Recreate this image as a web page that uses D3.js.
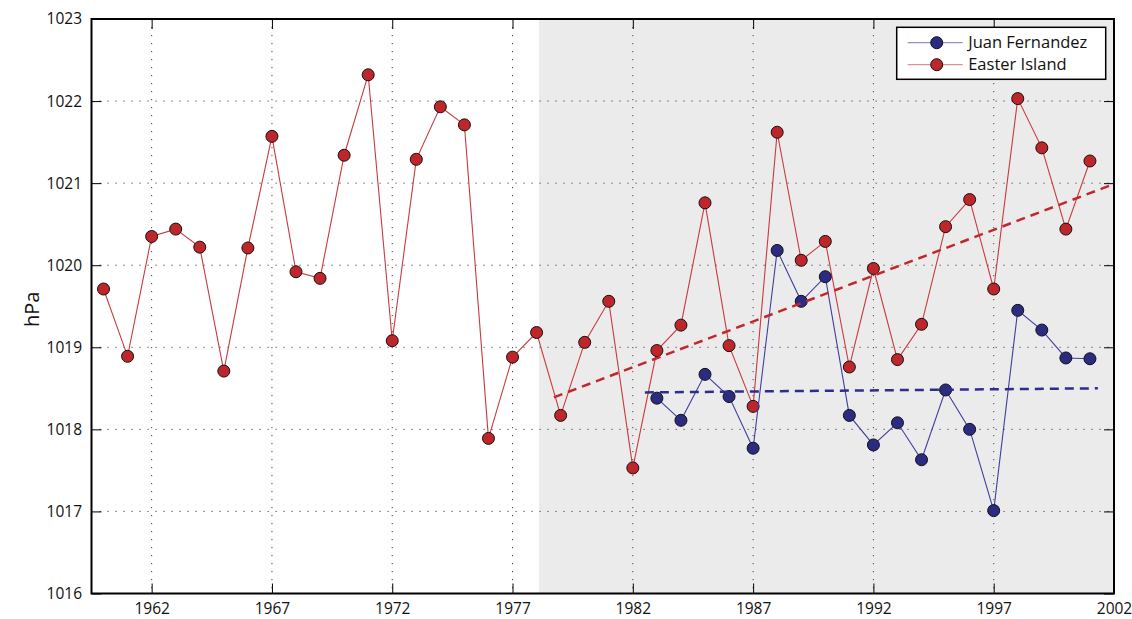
<!DOCTYPE html>
<html>
<head>
<meta charset="utf-8">
<script src="https://cdn.jsdelivr.net/npm/d3@7"></script>
<style>
  body { margin: 0; background: #fff; }
  svg { display: block; }
</style>
</head>
<body>
<div class="canva"></div>
<script>
// dati
var eiYears = [1960,1961,1962,1963,1964,1965,1966,1967,1968,1969,1970,1971,1972,1973,1974,1975,1976,1977,1978,1979,
               1980,1981,1982,1983,1984,1985,1986,1987,1988,1989,1990,1991,1992,1993,1994,1995,1996,1997,1998,1999,2000,2001];
var eiValues = [1019.71,1018.89,1020.35,1020.44,1020.22,1018.71,1020.21,1021.57,1019.92,1019.84,1021.34,1022.32,1019.08,1021.29,
                1021.93,1021.71,1017.89,1018.88,1019.18,1018.17,1019.06,1019.56,1017.53,1018.96,1019.27,1020.76,1019.02,1018.28,
                1021.62,1020.06,1020.29,1018.76,1019.96,1018.85,1019.28,1020.47,1020.80,1019.71,1022.03,1021.43,1020.44,1021.27];
var jfYears = [1983,1984,1985,1986,1987,1988,1989,1990,1991,1992,1993,1994,1995,1996,1997,1998,1999,2000,2001];
var jfValues = [1018.38,1018.11,1018.67,1018.40,1017.77,1020.18,1019.56,1019.86,1018.17,1017.81,1018.08,1017.63,
                1018.48,1018.00,1017.01,1019.45,1019.21,1018.87,1018.86];

// linee di tendenza (inizio, fine)
var eiTrendYears = [1978.72, 2002];
var eiTrendValues = [1018.39, 1020.99];
var jfTrendYears = [1982.5, 2001.33];
var jfTrendValues = [1018.45, 1018.50];

var xTicks = [1962,1967,1972,1977,1982,1987,1992,1997,2002];
var yTicks = [1016,1017,1018,1019,1020,1021,1022,1023];
var shadeStart = 1978.1;
var seriesNames = ["Juan Fernandez", "Easter Island"];

var margin = {top: 19, right: 18, bottom: 25.5, left: 91.5},
    width = 1132 - margin.left - margin.right,
    height = 619 - margin.top - margin.bottom;

var font = "'Open Sans', sans-serif";
var red = "#bf262c", redLine = "#c83a3f";
var blue = "#2c2b82", blueLine = "#3f3f9e";

var svg = d3.select(".canva")
  .append("svg")
    .attr("width", 1132)
    .attr("height", 619)
  .append("g")
    .attr("transform", "translate(" + margin.left + "," + margin.top + ")");

var x = d3.scaleLinear().domain([1959.5, 2002]).range([0, width]);
var y = d3.scaleLinear().domain([1016, 1023]).range([height, 0]);

// zona grigia
svg.append("rect")
  .attr("x", x(shadeStart))
  .attr("y", 0)
  .attr("width", x(2002) - x(shadeStart))
  .attr("height", height)
  .attr("fill", "#ebebeb");

// griglia punteggiata
svg.append("g").selectAll("line")
  .data(xTicks.slice(0, -1))
  .enter().append("line")
    .attr("x1", function(d) { return x(d); })
    .attr("x2", function(d) { return x(d); })
    .attr("y1", 0).attr("y2", height)
    .attr("stroke", "#444").attr("stroke-width", 1)
    .attr("stroke-dasharray", "1.2,6.8");
svg.append("g").selectAll("line")
  .data(yTicks.slice(1, -1))
  .enter().append("line")
    .attr("y1", function(d) { return y(d); })
    .attr("y2", function(d) { return y(d); })
    .attr("x1", 0).attr("x2", width)
    .attr("stroke", "#444").attr("stroke-width", 1)
    .attr("stroke-dasharray", "1.2,6.8");

// assi
function styleAxis(g) {
  g.select(".domain").remove();
  g.selectAll(".tick line").attr("stroke", "#000").attr("stroke-width", 1);
  g.selectAll("text").attr("font-family", font).attr("font-size", 15.5).attr("fill", "#111");
}
svg.append("g")
  .attr("transform", "translate(0," + height + ")")
  .call(d3.axisBottom(x).tickValues(xTicks).tickFormat(d3.format("d")).tickSize(-10).tickPadding(9.5))
  .call(styleAxis);
svg.append("g")
  .call(d3.axisTop(x).tickValues(xTicks).tickFormat("").tickSize(-10))
  .call(styleAxis);
svg.append("g")
  .call(d3.axisLeft(y).tickValues(yTicks).tickFormat(d3.format("d")).tickSize(-10).tickPadding(9.5))
  .call(styleAxis);
svg.append("g")
  .attr("transform", "translate(" + width + ",0)")
  .call(d3.axisRight(y).tickValues(yTicks).tickFormat("").tickSize(-10))
  .call(styleAxis);

svg.append("rect")
  .attr("width", width).attr("height", height)
  .attr("fill", "none").attr("stroke", "#000").attr("stroke-width", 2);

svg.append("text")
  .attr("transform", "translate(" + (-53) + "," + (height / 2 + 3) + ")rotate(-90)")
  .attr("text-anchor", "middle")
  .attr("font-family", font).attr("font-size", 20).attr("fill", "#111")
  .text("hPa");

// serie
function drawSeries(years, values, lineColor, fill) {
  var pts = years.map(function(d, i) { return [d, values[i]]; });
  var line = d3.line().x(function(d) { return x(d[0]); }).y(function(d) { return y(d[1]); });
  svg.append("path").datum(pts)
    .attr("d", line).attr("fill", "none")
    .attr("stroke", lineColor).attr("stroke-width", 1.1);
  svg.append("g").selectAll("circle")
    .data(pts).enter().append("circle")
      .attr("cx", function(d) { return x(d[0]); })
      .attr("cy", function(d) { return y(d[1]); })
      .attr("r", 6)
      .attr("fill", fill).attr("stroke", "#111").attr("stroke-width", 1);
}
drawSeries(eiYears, eiValues, redLine, red);
drawSeries(jfYears, jfValues, blueLine, blue);

function drawTrend(years, values, color) {
  svg.append("line")
    .attr("x1", x(years[0])).attr("y1", y(values[0]))
    .attr("x2", x(years[1])).attr("y2", y(values[1]))
    .attr("stroke", color).attr("stroke-width", 2.5)
    .attr("stroke-dasharray", "9,6");
}
drawTrend(eiTrendYears, eiTrendValues, "#c3272e");
drawTrend(jfTrendYears, jfTrendValues, "#2e2d8c");

// legenda
var legend = svg.append("g")
  .attr("transform", "translate(" + (896.7 - margin.left) + "," + (27.3 - margin.top) + ")");
legend.append("rect")
  .attr("width", 209).attr("height", 52)
  .attr("fill", "#fff").attr("stroke", "#000").attr("stroke-width", 1.5);
var legendColors = [[blueLine, blue], [redLine, red]];
seriesNames.forEach(function(name, i) {
  var cy = 15.4 + i * 22;
  legend.append("line")
    .attr("x1", 11).attr("x2", 66).attr("y1", cy).attr("y2", cy)
    .attr("stroke", legendColors[i][0]).attr("stroke-width", 1).attr("opacity", 0.7);
  legend.append("circle")
    .attr("cx", 40).attr("cy", cy).attr("r", 6)
    .attr("fill", legendColors[i][1]).attr("stroke", "#111");
  legend.append("text")
    .attr("x", 71.5).attr("y", cy).attr("dy", "0.35em")
    .attr("font-family", font).attr("font-size", 16.5).attr("fill", "#111")
    .text(name);
});
</script>
</body>
</html>
